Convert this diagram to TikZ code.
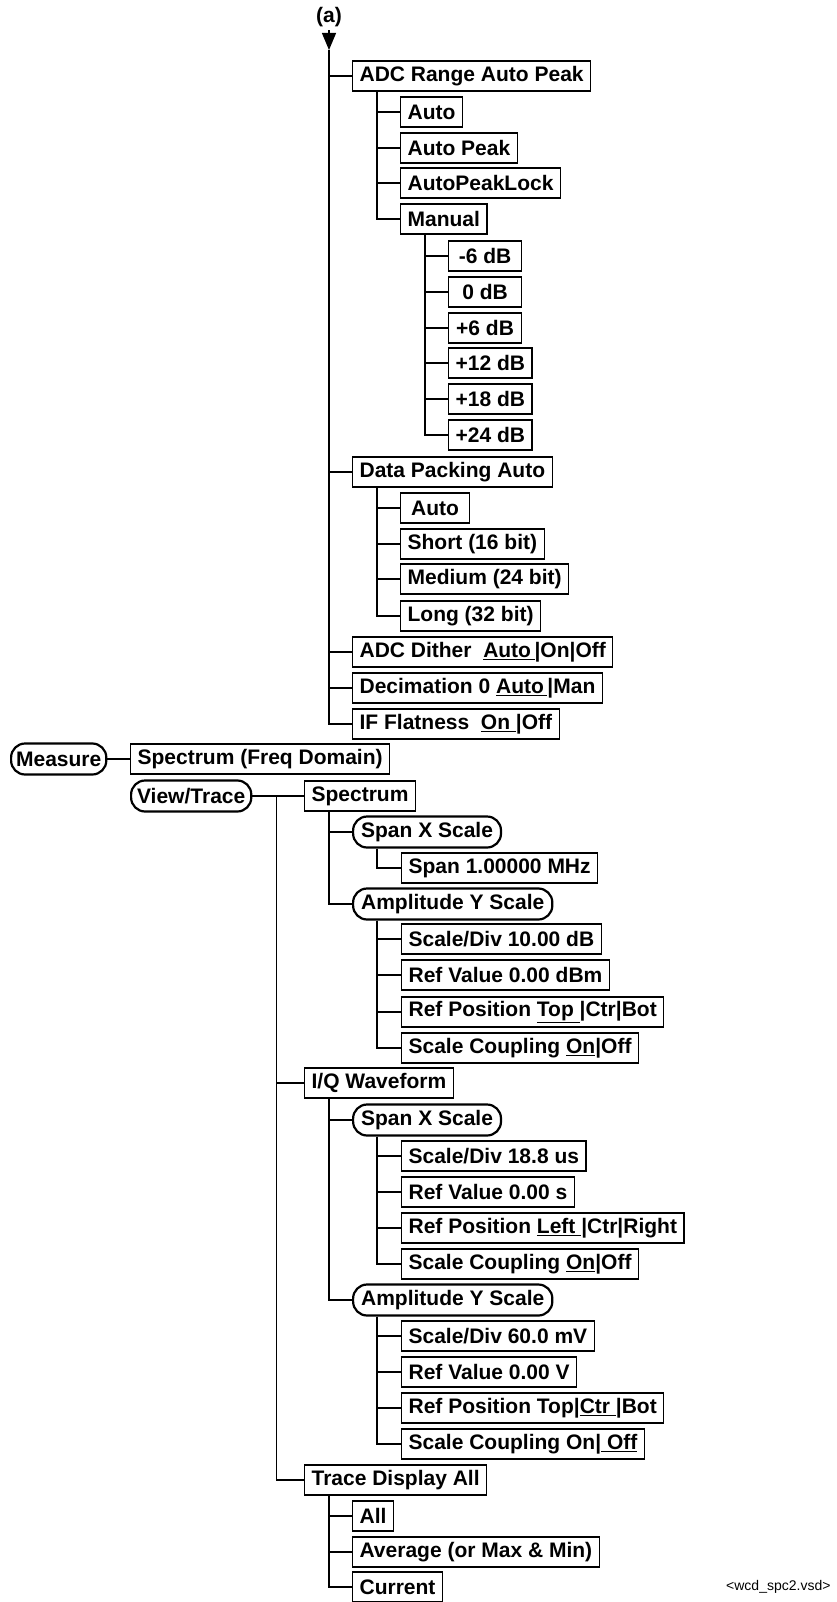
\documentclass[tikz,border=0pt]{standalone}
\usepackage{fontspec}
\setmainfont{Liberation Sans}
\usetikzlibrary{arrows.meta}
\newcommand{\sel}[1]{\underline{#1}}

\begin{document}
\begin{tikzpicture}[x=1pt,y=-1pt]
        \useasboundingbox (0,0) rectangle (836,1602);
        \tikzset{BoxStyle/.style={draw, line width=1.2pt, anchor=west,
            minimum height=30pt, inner xsep=7pt, inner ysep=0pt,
            font=\fontsize{21}{24}\selectfont\bfseries}}
        \tikzset{KeyStyle/.style={BoxStyle, rounded corners=14pt,
            line width=2.2pt, inner xsep=8pt, minimum height=31pt}}
        \tikzset{DbStyle/.style={BoxStyle, minimum width=73pt}}
        \tikzset{LinkStyle/.style={line width=1.2pt}}
        % (a) entry
        \node[font=\fontsize{21}{24}\selectfont\bfseries] (Amark) at (329,17) {(a)};
        \coordinate (Atip) at (329,50);
        \draw[LinkStyle, -{Triangle[length=17pt, width=14pt]}] (Amark) -- (Atip);
        \node[BoxStyle] (ADC) at (352,76) {ADC Range Auto Peak};
        \node[BoxStyle] (ADCauto) at (400,112) {Auto};
        \node[BoxStyle] (ADCpeak) at (400,148) {Auto Peak};
        \node[BoxStyle] (ADClock) at (400,183) {AutoPeakLock};
        \node[BoxStyle] (ADCman) at (400,219) {Manual};
        \node[DbStyle] (DbA) at (448,256) {-6 dB};
        \node[DbStyle] (DbB) at (448,292) {0 dB};
        \node[DbStyle] (DbC) at (448,328) {+6 dB};
        \node[DbStyle] (DbD) at (448,363) {+12 dB};
        \node[DbStyle] (DbE) at (448,399) {+18 dB};
        \node[DbStyle] (DbF) at (448,435) {+24 dB};
        \node[BoxStyle] (Pack) at (352,472) {Data Packing Auto};
        \node[BoxStyle, minimum width=69pt] (PackAuto) at (400,508) {Auto};
        \node[BoxStyle] (PackShort) at (400,544) {Short (16 bit)};
        \node[BoxStyle] (PackMed) at (400,579) {Medium (24 bit)};
        \node[BoxStyle] (PackLong) at (400,616) {Long (32 bit)};
        \node[BoxStyle] (Dither) at (352,652) {ADC Dither\ \ \sel{Auto\,}|On|Off};
        \node[BoxStyle] (Decim) at (352,688) {Decimation 0 \sel{Auto\,}|Man};
        \node[BoxStyle] (Flat) at (352,724) {IF Flatness\ \ \sel{On\ }|Off};
        \foreach \c in {ADC, Pack, Dither, Decim, Flat}
            \draw[LinkStyle] (Atip) |- (\c.west);
        \foreach \c in {ADCauto, ADCpeak, ADClock, ADCman}
            \draw[LinkStyle] ([xshift=25pt]ADC.south west) |- (\c.west);
        \foreach \c in {DbA, DbB, DbC, DbD, DbE, DbF}
            \draw[LinkStyle] ([xshift=25pt]ADCman.south west) |- (\c.west);
        \foreach \c in {PackAuto, PackShort, PackMed, PackLong}
            \draw[LinkStyle] ([xshift=25pt]Pack.south west) |- (\c.west);
        % measure and view keys
        \node[KeyStyle, inner xsep=5pt] (Measure) at (10,759) {Measure};
        \node[BoxStyle] (Freq) at (130,759) {Spectrum (Freq Domain)};
        \draw[LinkStyle] (Measure.east) -- (Freq.west);
        \node[KeyStyle, inner xsep=6pt] (View) at (130,796) {View/Trace};
        \node[BoxStyle] (Spec) at (304,796) {Spectrum};
        \node[KeyStyle] (SpecX) at (352,832) {Span X Scale};
        \node[BoxStyle] (SpecSpan) at (401,868) {Span 1.00000 MHz};
        \node[KeyStyle] (SpecY) at (352,904) {Amplitude Y Scale};
        \node[BoxStyle] (SpecDiv) at (401,939) {Scale/Div 10.00 dB};
        \node[BoxStyle] (SpecRef) at (401,975) {Ref Value 0.00 dBm};
        \node[BoxStyle] (SpecPos) at (401,1012) {Ref Position \sel{Top\ }|Ctr|Bot};
        \node[BoxStyle] (SpecCpl) at (401,1048) {Scale Coupling \sel{On}|Off};
        \node[BoxStyle] (IQ) at (304,1083) {I/Q Waveform};
        \node[KeyStyle] (IQX) at (352,1120) {Span X Scale};
        \node[BoxStyle] (IQXdiv) at (401,1156) {Scale/Div 18.8 us};
        \node[BoxStyle] (IQXref) at (401,1192) {Ref Value 0.00 s};
        \node[BoxStyle] (IQXpos) at (401,1228) {Ref Position \sel{Left\ }|Ctr|Right};
        \node[BoxStyle] (IQXcpl) at (401,1264) {Scale Coupling \sel{On}|Off};
        \node[KeyStyle] (IQY) at (352,1300) {Amplitude Y Scale};
        \node[BoxStyle] (IQYdiv) at (401,1336) {Scale/Div 60.0 mV};
        \node[BoxStyle] (IQYref) at (401,1372) {Ref Value 0.00 V};
        \node[BoxStyle] (IQYpos) at (401,1408) {Ref Position Top|\sel{Ctr\ }|Bot};
        \node[BoxStyle] (IQYcpl) at (401,1444) {Scale Coupling On|\sel{\ Off}};
        \node[BoxStyle] (Trace) at (304,1480) {Trace Display All};
        \node[BoxStyle] (TraceAll) at (352,1516) {All};
        \node[BoxStyle] (TraceAvg) at (352,1552) {Average (or Max \& Min)};
        \node[BoxStyle] (TraceCur) at (352,1587) {Current};
        \draw[LinkStyle] (View.east) -- (Spec.west);
        \foreach \c in {IQ, Trace}
            \draw[LinkStyle] ([xshift=24pt]View.east) |- (\c.west);
        \foreach \c in {SpecX, SpecY}
            \draw[LinkStyle] ([xshift=25pt]Spec.south west) |- (\c.west);
        \draw[LinkStyle] ([xshift=25pt]SpecX.south west) |- (SpecSpan.west);
        \foreach \c in {SpecDiv, SpecRef, SpecPos, SpecCpl}
            \draw[LinkStyle] ([xshift=25pt]SpecY.south west) |- (\c.west);
        \foreach \c in {IQX, IQY}
            \draw[LinkStyle] ([xshift=25pt]IQ.south west) |- (\c.west);
        \foreach \c in {IQXdiv, IQXref, IQXpos, IQXcpl}
            \draw[LinkStyle] ([xshift=25pt]IQX.south west) |- (\c.west);
        \foreach \c in {IQYdiv, IQYref, IQYpos, IQYcpl}
            \draw[LinkStyle] ([xshift=25pt]IQY.south west) |- (\c.west);
        \foreach \c in {TraceAll, TraceAvg, TraceCur}
            \draw[LinkStyle] ([xshift=25pt]Trace.south west) |- (\c.west);
        \node[anchor=east, font=\fontsize{14}{16}\selectfont] (File) at (834,1587) {<wcd\_spc2.vsd>};
\end{tikzpicture}
\end{document}
